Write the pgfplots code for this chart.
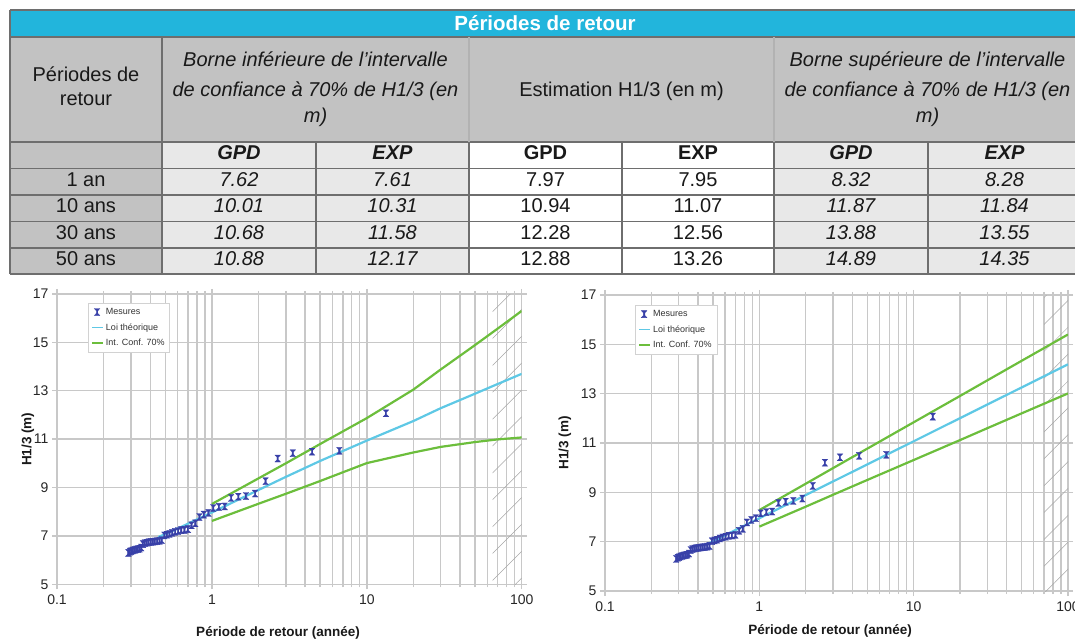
\documentclass[border=0pt]{standalone}
\usepackage{fontspec}
\setmainfont{Liberation Sans}
\usepackage{pgfplots}
\pgfplotsset{compat=1.18}
\usepackage{pgfplotstable}
\usetikzlibrary{patterns.meta}

\definecolor{titlecyan}{HTML}{22B5DC}
\definecolor{hdrgray}{HTML}{C2C2C2}
\definecolor{cellgray}{HTML}{E8E8E8}
\definecolor{tline}{HTML}{6E6E6E}
\definecolor{gridgray}{HTML}{C8C8C8}
\definecolor{mesblue}{HTML}{3840A8}
\definecolor{loiblue}{HTML}{5EC8E5}
\definecolor{confgreen}{HTML}{6CBE3C}

% Mesures (plotting position T, H1/3)
\pgfplotstableread{
T H
13.30 12.07
6.65 10.52
4.43 10.48
3.33 10.42
2.66 10.20
2.22 9.26
1.90 8.75
1.66 8.65
1.48 8.62
1.33 8.57
1.21 8.22
1.11 8.20
1.02 8.15
0.950 7.95
0.887 7.88
0.831 7.78
0.782 7.52
0.739 7.44
0.700 7.28
0.665 7.25
0.633 7.24
0.605 7.20
0.578 7.17
0.554 7.13
0.532 7.08
0.512 7.05
0.493 7.02
0.475 6.83
0.459 6.80
0.443 6.78
0.429 6.77
0.416 6.76
0.403 6.75
0.391 6.74
0.380 6.72
0.369 6.70
0.359 6.66
0.350 6.52
0.341 6.47
0.333 6.45
0.324 6.44
0.317 6.42
0.309 6.40
0.302 6.37
0.296 6.35
0.289 6.30
}\mesures

\pgfplotstableread{
T H
0.45 6.95
0.6 7.30
0.8 7.68
1 7.97
2 8.90
3 9.44
5 10.10
10 10.94
20 11.75
30 12.28
50 12.88
70 13.28
100 13.70
}\gpdloi
\pgfplotstableread{
T H
1 8.32
2 9.38
3 10.00
5 10.80
10 11.87
20 13.05
30 13.88
50 14.89
70 15.57
100 16.30
}\gpdsup
\pgfplotstableread{
T H
1 7.62
2 8.33
3 8.74
5 9.27
10 10.01
20 10.45
30 10.68
50 10.88
70 10.99
100 11.07
}\gpdinf

\pgfplotstableread{
T H
0.45 6.87
0.6 7.26
0.8 7.65
1 7.95
2 8.89
3 9.44
5 10.13
10 11.07
20 12.01
30 12.56
50 13.25
100 14.19
}\exploi
\pgfplotstableread{
T H
1 8.28
2 9.35
3 9.98
5 10.77
10 11.84
20 12.91
30 13.54
50 14.33
100 15.40
}\expsup
\pgfplotstableread{
T H
1 7.61
2 8.42
3 8.90
5 9.50
10 10.31
20 11.12
30 11.60
50 12.20
100 13.01
}\expinf

\pgfdeclareplotmark{ibeam}{%
  \pgfpathmoveto{\pgfqpoint{-2.8pt}{3.5pt}}%
  \pgfpathlineto{\pgfqpoint{2.8pt}{3.5pt}}%
  \pgfpathlineto{\pgfqpoint{0.75pt}{1.3pt}}%
  \pgfpathlineto{\pgfqpoint{0.75pt}{-1.3pt}}%
  \pgfpathlineto{\pgfqpoint{2.8pt}{-3.5pt}}%
  \pgfpathlineto{\pgfqpoint{-2.8pt}{-3.5pt}}%
  \pgfpathlineto{\pgfqpoint{-0.75pt}{-1.3pt}}%
  \pgfpathlineto{\pgfqpoint{-0.75pt}{1.3pt}}%
  \pgfpathclose
  \pgfusepathqfillstroke}

\pgfplotsset{
  loilegend/.style={legend image code/.code={\draw[loiblue, line width=1.8pt] (0pt,0pt) -- (11pt,0pt);}},
  conflegend/.style={legend image code/.code={\draw[confgreen, line width=1.8pt] (0pt,0pt) -- (11pt,0pt);}},
  meslegend/.style={legend image code/.code={\pgfsetfillcolor{mesblue}\pgfsetstrokecolor{mesblue}\pgfsetlinewidth{0.3pt}\pgftransformshift{\pgfqpoint{5pt}{0pt}}\pgfuseplotmark{ibeam}}},
}

\begin{document}
\begin{tikzpicture}
\useasboundingbox (0pt,0pt) rectangle (1075pt,643pt);

% ---------------- TABLE ----------------
\begin{scope}[shift={(0pt,643pt)}, x=1pt, y=-1pt,
  tf/.style={font=\fontsize{20}{22}\selectfont, text=black!90, inner sep=0pt, text height=14pt, text depth=4pt},
  ti/.style={font=\fontsize{20}{22}\selectfont\itshape, text=black!90, inner sep=0pt, text height=14pt, text depth=4pt},
  tb/.style={font=\fontsize{20}{22}\selectfont\bfseries, text=black!90, inner sep=0pt, text height=14pt, text depth=4pt},
  tbi/.style={font=\fontsize{20}{22}\selectfont\bfseries\itshape, text=black!90, inner sep=0pt, text height=14pt, text depth=4pt}]
 \fill[hdrgray] (10,37) rectangle (1090,142);
 \fill[hdrgray] (10,142) rectangle (162,274);
 \fill[cellgray] (162,142) rectangle (469,274);
 \fill[white] (469,142) rectangle (774,274);
 \fill[cellgray] (774,142) rectangle (1090,274);
 \fill[titlecyan] (10,10) rectangle (1090,37);
 \draw[tline, line width=1.3pt] (10,10) -- (1090,10);
 \draw[tline, line width=1.1pt] (10,37) -- (1090,37);
 \draw[tline, line width=1.1pt] (10,142) -- (1090,142);
 \foreach \yy in {168.5,195,221.5,248} \draw[tline, line width=1.1pt] (10,\yy) -- (1090,\yy);
 \draw[tline, line width=1.3pt] (10,274) -- (1090,274);
 \draw[tline, line width=1.3pt] (10,10) -- (10,274);
 \draw[tline, line width=1.1pt] (162,37) -- (162,274);
 \draw[gray!60, line width=1.1pt] (469,37) -- (469,142);
 \draw[gray!60, line width=1.1pt] (774,37) -- (774,142);
 \draw[tline, line width=1.1pt] (469,142) -- (469,274);
 \draw[tline, line width=1.1pt] (774,142) -- (774,274);
 \foreach \xx in {316,622,928} \draw[tline, line width=1.1pt] (\xx,142) -- (\xx,274);

 \node[font=\fontsize{20.5}{22}\selectfont\bfseries, text=white, inner sep=0pt] at (545,23.5) {Périodes de retour};
 \node[tf] at (86,77) {Périodes de};
 \node[tf] at (86,101) {retour};
 \node[ti] at (315.5,61.5) {Borne inférieure de l'intervalle};
 \node[ti] at (315.5,91.5) {de confiance à 70\% de H1/3 (en};
 \node[ti] at (315.5,118) {m)};
 \node[tf] at (621.5,91.5) {Estimation H1/3 (en m)};
 \node[ti] at (927.5,61.5) {Borne supérieure de l'intervalle};
 \node[ti] at (927.5,91.5) {de confiance à 70\% de H1/3 (en};
 \node[ti] at (927.5,118) {m)};

 \node[tbi] at (239,155) {GPD};   \node[tbi] at (392.5,155) {EXP};
 \node[tb] at (545.5,155) {GPD};  \node[tb] at (698,155) {EXP};
 \node[tbi] at (851,155) {GPD};   \node[tbi] at (1004.5,155) {EXP};

 \node[tf] at (86,181.5) {1 an};
 \node[ti] at (239,181.5) {7.62}; \node[ti] at (392.5,181.5) {7.61};
 \node[tf] at (545.5,181.5) {7.97}; \node[tf] at (698,181.5) {7.95};
 \node[ti] at (851,181.5) {8.32}; \node[ti] at (1004.5,181.5) {8.28};

 \node[tf] at (86,208) {10 ans};
 \node[ti] at (239,208) {10.01}; \node[ti] at (392.5,208) {10.31};
 \node[tf] at (545.5,208) {10.94}; \node[tf] at (698,208) {11.07};
 \node[ti] at (851,208) {11.87}; \node[ti] at (1004.5,208) {11.84};

 \node[tf] at (86,234.5) {30 ans};
 \node[ti] at (239,234.5) {10.68}; \node[ti] at (392.5,234.5) {11.58};
 \node[tf] at (545.5,234.5) {12.28}; \node[tf] at (698,234.5) {12.56};
 \node[ti] at (851,234.5) {13.88}; \node[ti] at (1004.5,234.5) {13.55};

 \node[tf] at (86,261) {50 ans};
 \node[ti] at (239,261) {10.88}; \node[ti] at (392.5,261) {12.17};
 \node[tf] at (545.5,261) {12.88}; \node[tf] at (698,261) {13.26};
 \node[ti] at (851,261) {14.89}; \node[ti] at (1004.5,261) {14.35};
\end{scope}

% ---------------- LEFT CHART (GPD) ----------------
\begin{axis}[
  at={(57pt,58.7pt)}, anchor=south west, scale only axis,
  width=464.7pt, height=290.3pt,
  xmode=log, xmin=0.1, xmax=100, ymin=5, ymax=17,
  xtick={0.1,1,10,100}, xticklabels={0.1,1,10,100},
  minor xtick={0.2,0.3,0.4,0.5,0.6,0.7,0.8,0.9,2,3,4,5,6,7,8,9,20,30,40,50,60,70,80,90},
  ytick={5,7,9,11,13,15,17}, yticklabels={5,7,9,11,13,15,17},
  grid=both,
  major grid style={gridgray, line width=1.4pt},
  minor grid style={gridgray, line width=1.4pt},
  axis line style={gridgray, line width=1.4pt},
  tick align=outside, major tick length=5pt, minor tick length=3pt,
  tick style={gridgray, line width=1.4pt},
  ticklabel style={font=\fontsize{14}{16}\selectfont, text=black!85},
  xticklabel style={yshift=-2pt},
  label style={font=\bfseries\fontsize{13.5}{15}\selectfont, text=black!90},
  ylabel={H1/3 (m)}, xlabel={Période de retour (année)},
  xlabel style={at={(axis description cs:0.4756,-0.168)}, anchor=center},
  ylabel style={at={(axis description cs:-0.0624,0.5)}, anchor=center},
  legend cell align=left,
  legend style={at={(axis description cs:0.0667,0.969)}, anchor=north west, draw=gray!35, fill=white,
      font=\fontsize{9}{10}\selectfont, text=black!80,
      inner xsep=3pt, inner ysep=3pt, row sep=3.5pt},
]
\fill[pattern={Lines[angle=45,distance=19pt,line width=0.5pt]}, pattern color=gray!70] (axis cs:65,5) rectangle (axis cs:100,17);
\addlegendimage{meslegend}
\addlegendentry{Mesures}
\addlegendimage{loilegend}
\addlegendentry{Loi théorique}
\addlegendimage{conflegend}
\addlegendentry{Int. Conf. 70\%}
\addplot[confgreen, line width=2.2pt, forget plot] table[x=T, y=H] {\gpdsup};
\addplot[confgreen, line width=2.2pt, forget plot] table[x=T, y=H] {\gpdinf};
\addplot[loiblue, line width=2.2pt, forget plot] table[x=T, y=H] {\gpdloi};
\addplot[only marks, mark=ibeam, mark options={draw=mesblue, fill=mesblue, line width=0.3pt}, forget plot] table[x=T, y=H] {\mesures};
\end{axis}

% ---------------- RIGHT CHART (EXP) ----------------
\begin{axis}[
  at={(605pt,52pt)}, anchor=south west, scale only axis,
  width=463pt, height=296pt,
  xmode=log, xmin=0.1, xmax=100, ymin=5, ymax=17,
  xtick={0.1,1,10,100}, xticklabels={0.1,1,10,100},
  minor xtick={0.2,0.3,0.4,0.5,0.6,0.7,0.8,0.9,2,3,4,5,6,7,8,9,20,30,40,50,60,70,80,90},
  ytick={5,7,9,11,13,15,17}, yticklabels={5,7,9,11,13,15,17},
  grid=both,
  major grid style={gridgray, line width=1.4pt},
  minor grid style={gridgray, line width=1.4pt},
  axis line style={gridgray, line width=1.4pt},
  tick align=outside, major tick length=5pt, minor tick length=3pt,
  tick style={gridgray, line width=1.4pt},
  ticklabel style={font=\fontsize{14}{16}\selectfont, text=black!85},
  xticklabel style={yshift=-2pt},
  label style={font=\bfseries\fontsize{13.5}{15}\selectfont, text=black!90},
  ylabel={H1/3 (m)}, xlabel={Période de retour (année)},
  xlabel style={at={(axis description cs:0.486,-0.135)}, anchor=center},
  ylabel style={at={(axis description cs:-0.0864,0.5)}, anchor=center},
  legend cell align=left,
  legend style={at={(axis description cs:0.0648,0.966)}, anchor=north west, draw=gray!35, fill=white,
      font=\fontsize{9}{10}\selectfont, text=black!80,
      inner xsep=3pt, inner ysep=3pt, row sep=3.5pt},
]
\fill[pattern={Lines[angle=45,distance=19pt,line width=0.5pt]}, pattern color=gray!70] (axis cs:70,5) rectangle (axis cs:100,17);
\addlegendimage{meslegend}
\addlegendentry{Mesures}
\addlegendimage{loilegend}
\addlegendentry{Loi théorique}
\addlegendimage{conflegend}
\addlegendentry{Int. Conf. 70\%}
\addplot[confgreen, line width=2.2pt, forget plot] table[x=T, y=H] {\expsup};
\addplot[confgreen, line width=2.2pt, forget plot] table[x=T, y=H] {\expinf};
\addplot[loiblue, line width=2.2pt, forget plot] table[x=T, y=H] {\exploi};
\addplot[only marks, mark=ibeam, mark options={draw=mesblue, fill=mesblue, line width=0.3pt}, forget plot] table[x=T, y=H] {\mesures};
\end{axis}
\end{tikzpicture}
\end{document}
